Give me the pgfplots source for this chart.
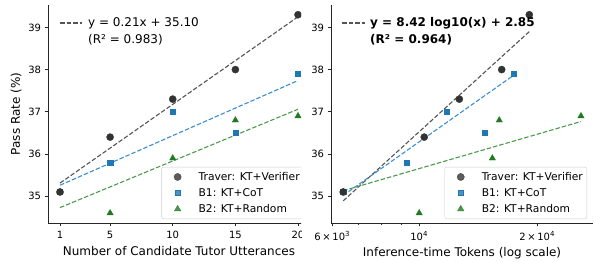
\documentclass[border=0pt]{standalone}
\usepackage{fontspec}
\setmainfont{DejaVu Sans}
\usepackage{pgfplots}
\pgfplotsset{compat=1.18}
\definecolor{cdark}{HTML}{333333}
\definecolor{cblue}{HTML}{1F77B4}
\definecolor{cgreen}{HTML}{217A21}
\definecolor{lgray}{HTML}{555555}
\definecolor{lblue}{HTML}{3D8ED0}
\definecolor{lgreen}{HTML}{4C9A4C}
\pgfplotsset{
  base/.style={
    scale only axis, height=218.2pt,
    axis x line*=bottom, axis y line*=left,
    axis line style={line width=0.8pt, black!85},
    tick align=outside, major tick length=3.5pt, minor tick length=2pt,
    every tick/.style={line width=0.8pt, black!85},
    tick label style={font=\fontsize{10}{12}\selectfont},
    xticklabel style={yshift=-1.5pt},
    /pgf/number format/assume math mode=true,
    ymin=34.365, ymax=39.535, ytick={35,36,37,38,39},
    label style={font=\fontsize{12}{14}\selectfont},
    legend style={at={(rel axis cs:0.977,0.018)}, anchor=south east,
      draw=black!20, rounded corners=2pt, fill=white, fill opacity=0.8, text opacity=1,
      font=\fontsize{10.7}{13}\selectfont, row sep=2.5pt, inner xsep=2pt, inner ysep=3pt},
    legend image code/.code={%
      \path[draw=none, fill=none] (0pt,0pt) -- (33pt,0pt);
      \draw[#1, only marks] plot coordinates {(14pt,0pt)};},
    legend cell align=left, reverse legend,
  },
  fitline/.style={line width=1.1pt, dash pattern=on 4.5pt off 2pt, forget plot},
  mdark/.style={only marks, mark=*, mark size=3.6pt, mark options={solid, draw=cdark, fill=cdark, line width=0.3pt}},
  mblue/.style={only marks, mark=square*, mark size=2.6pt, mark options={solid, draw=cblue, fill=cblue, line width=0.3pt}},
  mgreen/.style={only marks, mark=triangle*, mark size=3.7pt, mark options={solid, draw=cgreen, fill=cgreen, line width=0.3pt}},
}
\begin{document}
\begin{tikzpicture}
\begin{scope}
\clip (0pt,0pt) rectangle (301pt,262pt);
\begin{axis}[base, at={(48.1pt,39pt)}, anchor=south west, width=261.8pt,
  xmin=0.05, xmax=20.95, xtick={1,5,10,15,20},
  xlabel={Number of Candidate Tutor Utterances}, ylabel={Pass Rate (\%)}]
\addplot[fitline, lgray] coordinates {(1,35.31) (20,39.25)};
\addplot[fitline, lblue] coordinates {(1,35.26) (20,37.74)};
\addplot[fitline, lgreen] coordinates {(1,34.73) (20,37.06)};
\addplot[mgreen] coordinates {(1,35.1) (5,34.6) (10,35.9) (15,36.8) (20,36.9)};
\addlegendentry{B2: KT+Random}
\addplot[mblue] coordinates {(1,35.1) (5,35.8) (10,37.0) (15,36.5) (20,37.9)};
\addlegendentry{B1: KT+CoT}
\addplot[mdark] coordinates {(1,35.1) (5,36.4) (10,37.3) (15,38.0) (20,39.3)};
\addlegendentry{Traver: KT+Verifier}
\end{axis}
\end{scope}
\begin{axis}[base, at={(331pt,39pt)}, anchor=south west, width=262pt,
  xmode=log, log basis x=10, xmin=5957, xmax=27770,
  xtick={6000,10000,20000},
  xticklabels={6\,×\,10\textsuperscript{3}, 10\textsuperscript{4}, 2\,×\,10\textsuperscript{4}},
  minor xtick={7000,8000,9000},
  xlabel={Inference-time Tokens (log scale)}]
\addplot[fitline, lgray] coordinates {(6400,34.89) (19100,38.90)};
\addplot[fitline, lblue] coordinates {(6400,35.02) (17450,37.87)};
\addplot[fitline, lgreen] coordinates {(6400,35.13) (25870,36.77)};
\addplot[mgreen] coordinates {(6400,35.1) (10000,34.6) (15370,35.9) (16010,36.8) (25870,36.9)};
\addlegendentry{B2: KT+Random}
\addplot[mblue] coordinates {(6400,35.1) (9290,35.8) (11770,37.0) (14660,36.5) (17450,37.9)};
\addlegendentry{B1: KT+CoT}
\addplot[mdark] coordinates {(6400,35.1) (10300,36.4) (12660,37.3) (16240,38.0) (19100,39.3)};
\addlegendentry{Traver: KT+Verifier}
\end{axis}
% fit annotations (legend-like text)
\draw[lgray, line width=1.1pt, dash pattern=on 4.5pt off 2pt] (60pt,239pt) -- (82pt,239pt);
\node[anchor=west, inner sep=0pt, font=\fontsize{12}{14}\selectfont] at (88pt,239pt) {y = 0.21x + 35.10};
\node[anchor=west, inner sep=0pt, font=\fontsize{12}{14}\selectfont] at (88pt,222.7pt) {(R² = 0.983)};
\draw[lgray, line width=1.1pt, dash pattern=on 4.5pt off 2pt] (342pt,239pt) -- (365pt,239pt);
\node[anchor=west, inner sep=0pt, font=\fontsize{12}{14}\selectfont\bfseries] at (370pt,239pt) {y = 8.42 log10(x) + 2.85};
\node[anchor=west, inner sep=0pt, font=\fontsize{12}{14}\selectfont\bfseries] at (370pt,222.7pt) {(R² = 0.964)};
\pgfresetboundingbox
\path[use as bounding box] (0pt,0pt) rectangle (594pt,262pt);
\end{tikzpicture}
\end{document}
